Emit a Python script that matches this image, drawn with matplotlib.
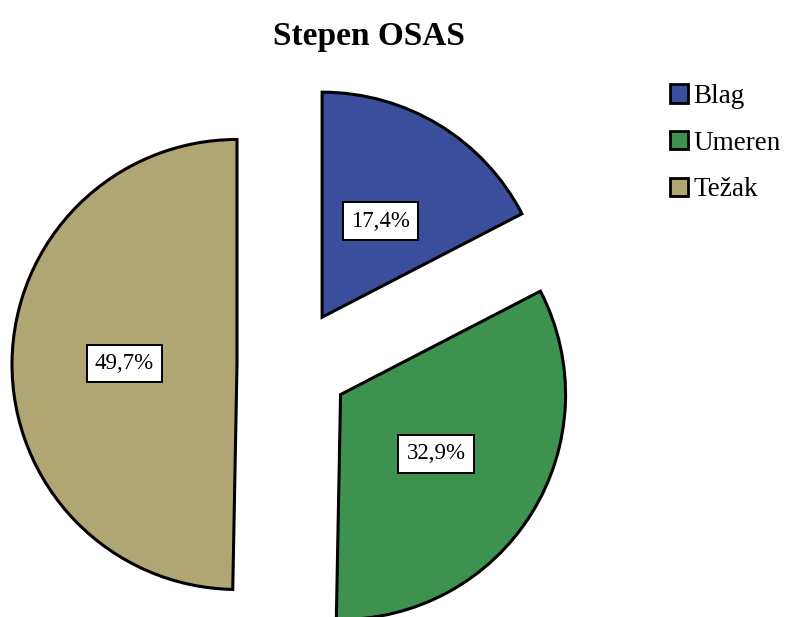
import matplotlib
matplotlib.use("Agg")
import matplotlib.pyplot as plt

labels = ["Blag", "Umeren", "Težak"]
values = [17.4, 32.9, 49.7]
colors = ["#3A4E9C", "#3E924F", "#B0A673"]
title = "Stepen OSAS"

W, H = 785, 617
fig = plt.figure(figsize=(W / 100, H / 100), dpi=100)
ax = fig.add_axes([0, 0, 1, 1])

plt.rcParams["font.family"] = ["Liberation Serif", "DejaVu Serif"]

wedges, texts, autotexts = ax.pie(
    values,
    center=(293, H - 365),
    radius=225,
    startangle=90,
    counterclock=False,
    explode=[56, 56, 56],
    colors=colors,
    autopct=lambda p: f"{p:.1f}%".replace(".", ","),
    pctdistance=0.5,
    wedgeprops=dict(edgecolor="black", linewidth=2.2),
    textprops=dict(fontsize=16.5, family=["Liberation Serif"]),
    frame=True,
)
ax.set_xlim(0, W)
ax.set_ylim(0, H)
ax.set_aspect("equal")
ax.axis("off")
for t in autotexts:
    t.set_bbox(dict(facecolor="white", edgecolor="black", linewidth=1.4, boxstyle="square,pad=0.36"))

fig.text(369 / W, 1 - 36 / H, title, ha="center", va="center",
         fontsize=24, fontweight="bold", family=["Liberation Serif"])

leg = ax.legend(wedges, labels, loc="upper left", bbox_to_anchor=(670 / W, 1 - 84 / H),
                bbox_transform=fig.transFigure, frameon=False,
                prop=dict(family="Liberation Serif", size=19.5),
                handlelength=0.65, handleheight=0.65, handletextpad=0.2,
                labelspacing=0.8, borderaxespad=0, borderpad=0)
for h in leg.legend_handles:
    h.set_linewidth(2)

fig.savefig("out.png", dpi=100)
